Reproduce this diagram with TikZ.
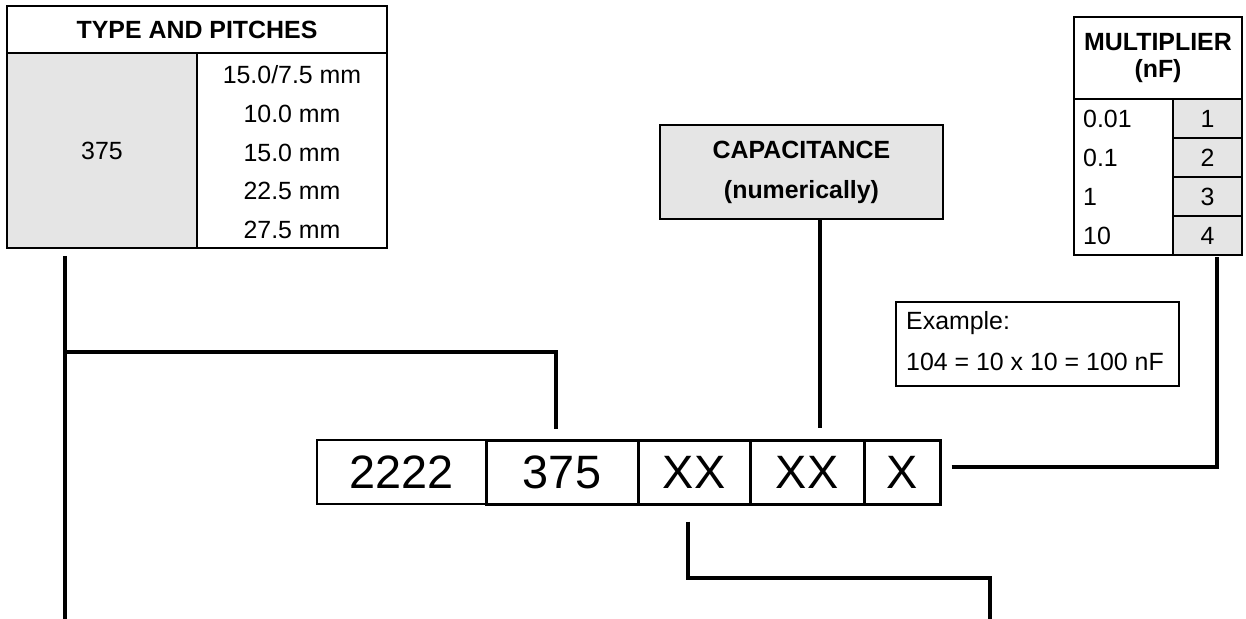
\documentclass[tikz,border=0pt]{standalone}
\usepackage{fontspec}
\setmainfont{Liberation Sans}
\usetikzlibrary{positioning}
\tikzset{
  txt/.style={inner sep=0pt, font=\fontsize{25}{28}\selectfont},
  head/.style={font=\fontsize{25}{#1}\selectfont\bfseries, align=center},
  box/.style={draw, line width=2bp, inner sep=0pt, font=\fontsize{25}{28}\selectfont},
  shade/.style={fill=black!10},
  codebox/.style={draw, line width=3bp, inner sep=0pt, minimum height=64bp,
    font=\fontsize{47}{50}\selectfont},
  wire/.style={line width=4bp},
}

\begin{document}
\begin{tikzpicture}[x=1bp,y=-1bp]
  \useasboundingbox (0,0) rectangle (1246,619);

  % type and pitches
  \node[box, head=28, minimum width=380bp, minimum height=47bp] (tphead) at (197,29.5) {TYPE AND PITCHES};
  \node[box, shade, minimum width=190bp, minimum height=195bp] (tptype) at (102,150.5) {375};
  \node[box, minimum width=190bp, minimum height=195bp] (tppitch) at (292,150.5) {};
  \foreach \p [count=\i] in {15.0/7.5 mm, 10.0 mm, 15.0 mm, 22.5 mm, 27.5 mm}
  {
    \node[txt] (pitch\i) at (292,{36.25+38.75*\i}) {\p};
  }

  % capacitance
  \node[box, shade, head=40, minimum width=283bp, minimum height=94bp] (cap) at (801.5,172) {CAPACITANCE\\(numerically)};

  % multiplier
  \node[box, head=28, minimum width=168bp, minimum height=82bp] (mphead) at (1158,58) {MULTIPLIER\\(nF)};
  \node[box, minimum width=99bp, minimum height=156bp] (mpval) at (1123.5,177) {};
  \foreach \v/\d [count=\i] in {0.01/1, 0.1/2, 1/3, 10/4}
  {
    \node[box, shade, minimum width=69bp, minimum height=39bp] (mp\d) at (1207.5,{79.5+39*\i}) {\d};
    \node[txt, anchor=west] (mpv\i) at (1083,{79.5+39*\i}) {\v};
  }

  % example
  \node[box, minimum width=283bp, minimum height=84bp] (ex) at (1037.5,344) {};
  \node[txt, anchor=west] (ex1) at (906,323) {Example:};
  \node[txt, anchor=west] (ex2) at (906,362) {104 = 10 x 10 = 100 nF};

  % code
  \node[codebox, line width=2bp, minimum width=169bp] (c2222) at (401.5,472) {2222};
  \node[codebox, minimum width=152bp] (c375) at (562,472) {375};
  \node[codebox, minimum width=112bp] (cxx1) at (694,472) {XX};
  \node[codebox, minimum width=114bp] (cxx2) at (807,472) {XX};
  \node[codebox, minimum width=76bp] (cx) at (902,472) {X};

  % connectors
  \coordinate (tptop) at (65,256);
  \coordinate (tpbot) at (65,619);
  \coordinate (tpjoin) at (65,352);
  \coordinate (capfoot) at (820,428);
  \coordinate (mpfoot) at (1217,257);
  \coordinate (bendR) at (990,578);

  \draw[wire] (tptop) -- (tpbot);
  \draw[wire] (tpjoin) -| ([xshift=-6bp,yshift=10bp]c375.north);
  \draw[wire] (capfoot |- cap.south) -- (capfoot);
  \draw[wire] ([xshift=10bp,yshift=5bp]cx.east) -| (mpfoot);
  \draw[wire] ([xshift=-6bp,yshift=-16bp]cxx1.south) |- (bendR) -- (bendR |- tpbot);
\end{tikzpicture}
\end{document}
